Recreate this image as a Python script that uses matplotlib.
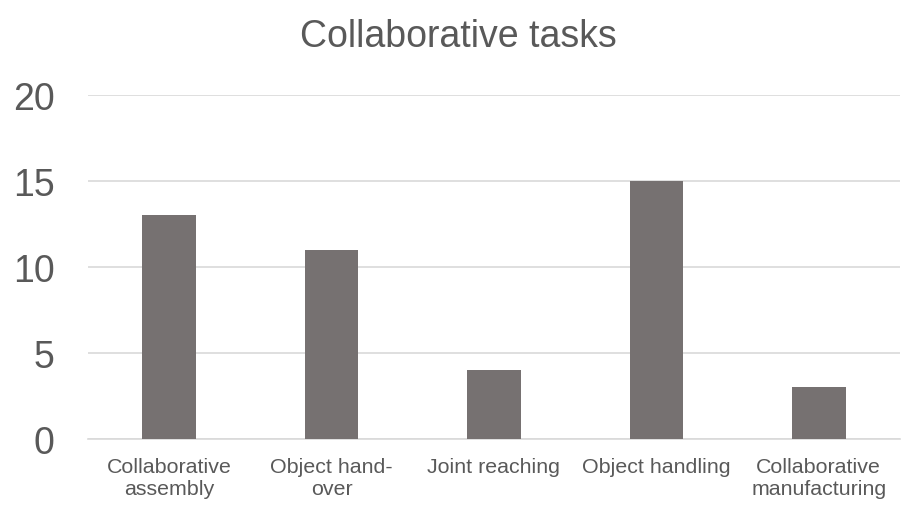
import matplotlib
matplotlib.use('Agg')
import matplotlib.pyplot as plt

plt.rcParams['font.family'] = ['Liberation Sans', 'DejaVu Sans']

categories = ['Collaborative\nassembly', 'Object hand-\nover', 'Joint reaching',
              'Object handling', 'Collaborative\nmanufacturing']
counts = [13, 11, 4, 15, 3]
yticks = [0, 5, 10, 15, 20]

fig = plt.figure(figsize=(9.24, 5.10), dpi=100)
ax = fig.add_axes([0.095, 0.137, 0.879, 0.675])

x = range(len(categories))
ax.bar(x, counts, width=0.33, color='#767171', zorder=3)

ax.set_xlim(-0.5, len(categories) - 0.5)
ax.set_ylim(0, 20)
ax.set_yticks(yticks)
ax.set_xticks(list(x))
ax.set_xticklabels(categories, fontsize=15.4, color='#595959', linespacing=1.22)
ax.tick_params(axis='y', labelsize=27, colors='#595959', length=0, pad=24)
ax.tick_params(axis='x', length=0, pad=13)
ax.grid(axis='y', color='#d9d9d9', linewidth=1.2, zorder=0)

for s in ['top', 'right', 'left']:
    ax.spines[s].set_visible(False)
ax.spines['bottom'].set_color('#d9d9d9')
ax.spines['bottom'].set_linewidth(1.2)

fig.text(0.496, 0.927, 'Collaborative tasks', ha='center', va='center',
         fontsize=27, color='#595959')

fig.savefig('out.png', dpi=100)
